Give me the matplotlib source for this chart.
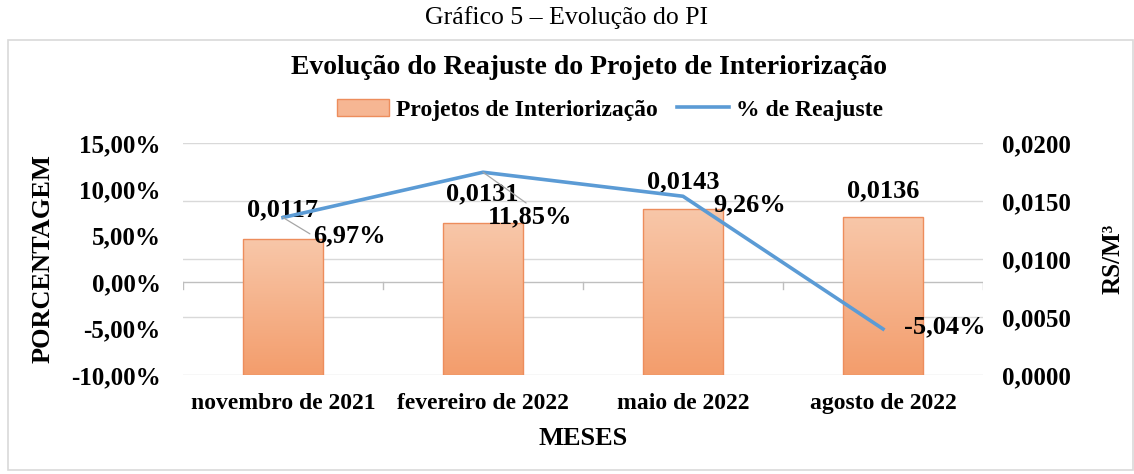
import matplotlib
matplotlib.use("Agg")
import matplotlib.pyplot as plt
import matplotlib.transforms as mtransforms
from matplotlib.patches import Rectangle
import numpy as np

plt.rcParams["font.family"] = ["Liberation Serif", "DejaVu Serif"]

meses = ["novembro de 2021", "fevereiro de 2022", "maio de 2022", "agosto de 2022"]
valor_m3 = [0.0117, 0.0131, 0.0143, 0.0136]
reajuste = [6.97, 11.85, 9.26, -5.04]

pct_ticks = [-10, -5, 0, 5, 10, 15]
rs_ticks = [0.0, 0.005, 0.010, 0.015, 0.020]

# label offsets in pixels (bar labels, line labels)
bar_off = [(0, 29), (-1, 29), (0, 27), (0, 26)]
line_off = [(66, -18), (47, -45), (67, -9), (62, 2)]
leader_rel = [(0.0, 0.5), (0.5, 1.0), None, None]

fig = plt.figure(figsize=(11.34, 4.74), dpi=100)
W, H = 1134, 474

fig.text(567 / W, 1 - 18 / H, "Gráfico 5 – Evolução do PI", ha="center", va="center",
         fontsize=18.5)
fig.patches.append(Rectangle((8 / W, 4 / H), 1 - 9 / W, (470 - 40) / H,
                             transform=fig.transFigure, fill=False,
                             edgecolor="#d9d9d9", lw=1.2))

ax_bar = fig.add_axes([183 / W, 1 - 375 / H, 800 / W, 232 / H])
ax_line = ax_bar.twinx()
ax_line.set_zorder(ax_bar.get_zorder() + 1)
ax_line.patch.set_visible(False)

x = np.arange(len(meses))

# bars with vertical gradient (light on top)
bars = ax_bar.bar(x, valor_m3, width=0.4, color="none", edgecolor="#ed8d5c",
                  lw=1.0, zorder=3, label="Projetos de Interiorização")
grad = np.linspace(0, 1, 256).reshape(-1, 1)
cmap = matplotlib.colors.LinearSegmentedColormap.from_list("g", ["#f8c7a9", "#f39d6c"])
for b in bars:
    x0, y0 = b.get_x(), b.get_y()
    im = ax_bar.imshow(grad, cmap=cmap, aspect="auto", zorder=2,
                       extent=[x0, x0 + b.get_width(), y0, y0 + b.get_height()],
                       origin="upper")
    im.set_clip_path(b)
ax_bar.set_xlim(-0.5, len(meses) - 0.5)
ax_bar.set_ylim(rs_ticks[0], rs_ticks[-1])
ax_bar.set_yticks(rs_ticks)
ax_bar.set_yticklabels([("%.4f" % v).replace(".", ",") for v in rs_ticks])
ax_bar.grid(axis="y", color="#d9d9d9", lw=1.0, zorder=0)
ax_bar.set_axisbelow(True)

line, = ax_line.plot(x, reajuste, color="#5b9bd5", lw=2.6, zorder=4,
                     label="% de Reajuste")
ax_line.set_ylim(pct_ticks[0], pct_ticks[-1])
ax_line.set_yticks(pct_ticks)
ax_line.set_yticklabels([("%.2f%%" % v).replace(".", ",") for v in pct_ticks])

# left ticks on left, right ticks on right
ax_bar.yaxis.tick_right()
ax_bar.yaxis.set_label_position("right")
ax_line.yaxis.tick_left()
ax_line.yaxis.set_label_position("left")

for a in (ax_bar, ax_line):
    for s in a.spines.values():
        s.set_visible(False)
    a.tick_params(axis="y", length=0, labelsize=18)
    for t in a.get_yticklabels():
        t.set_fontweight("bold")
ax_line.tick_params(axis="y", pad=16)
ax_bar.tick_params(axis="y", pad=14)

# category axis crossing at 0 %
f0 = (0 - pct_ticks[0]) / (pct_ticks[-1] - pct_ticks[0])
ax_bar.plot([0, 1], [f0, f0], transform=ax_bar.transAxes, color="#bfbfbf",
            lw=1.0, zorder=1)
trans = mtransforms.blended_transform_factory(ax_bar.transData, ax_bar.transAxes)
for xb in np.arange(len(meses) + 1) - 0.5:
    ax_bar.plot([xb, xb], [f0, f0 - 0.03], transform=trans, color="#bfbfbf",
                lw=1.0, zorder=1)

ax_bar.set_xticks(x)
ax_bar.set_xticklabels(meses, fontsize=17, fontweight="bold")
ax_bar.tick_params(axis="x", length=0, pad=13)
ax_bar.set_xlabel("MESES", fontsize=19, fontweight="bold", labelpad=9)
ax_line.set_ylabel("PORCENTAGEM", fontsize=19, fontweight="bold", labelpad=12)
ax_bar.set_ylabel("RS/M³", fontsize=18, fontweight="bold", labelpad=22)

for i in range(len(meses)):
    ax_bar.annotate(("%.4f" % valor_m3[i]).replace(".", ","), (x[i], valor_m3[i]),
                    xytext=bar_off[i], textcoords="offset pixels",
                    ha="center", va="center", fontsize=19, fontweight="bold",
                    zorder=5)
    props = None
    if leader_rel[i] is not None:
        props = dict(arrowstyle="-", color="#a6a6a6", lw=0.9, shrinkA=0, shrinkB=0,
                     relpos=leader_rel[i])
    ax_line.annotate(("%.2f%%" % reajuste[i]).replace(".", ","), (x[i], reajuste[i]),
                     xytext=line_off[i], textcoords="offset pixels",
                     ha="center", va="center", fontsize=19, fontweight="bold",
                     arrowprops=props, zorder=5)

fig.text(589 / W, 1 - 68 / H, "Evolução do Reajuste do Projeto de Interiorização",
         ha="center", va="center", fontsize=20, fontweight="bold")

handles = [Rectangle((0, 0), 1, 1, facecolor="#f6b693", edgecolor="#ed8d5c"), line]
leg = fig.legend(handles, ["Projetos de Interiorização", "% de Reajuste"],
                 loc="center", bbox_to_anchor=(610 / W, 1 - 110 / H), ncol=2,
                 frameon=False, handlelength=2.2, columnspacing=0.8,
                 handletextpad=0.3, prop=dict(size=17, weight="bold"))

fig.savefig("out.png", dpi=100)
